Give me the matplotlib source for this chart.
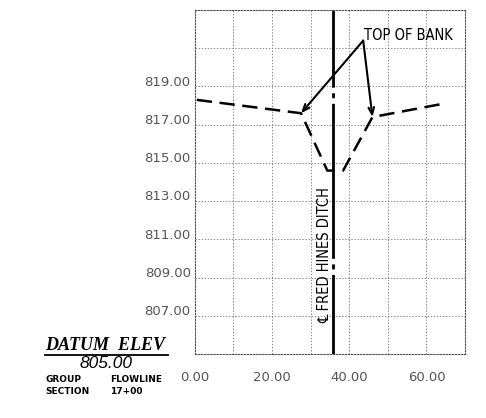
import matplotlib
matplotlib.use("Agg")
import matplotlib.pyplot as plt

# ---- data ----
offsets = [0.5, 27.5, 34.3, 38.4, 46.0, 64.4]
elevations = [818.3, 817.6, 814.6, 814.6, 817.4, 818.1]
centerline_x = 35.9
bank_left = (27.5, 817.6)
bank_right = (46.0, 817.4)
label_anchor = (43.6, 821.4)
x_ticks = [0, 20, 40, 60]
x_ticklabels = ["0.00", "20.00", "40.00", "60.00"]
y_ticks = [807, 809, 811, 813, 815, 817, 819]
y_ticklabels = ["807.00", "809.00", "811.00", "813.00", "815.00", "817.00", "819.00"]
x_lim = (0, 70)
y_lim = (805, 823)
datum = "805.00"
group = "FLOWLINE"
section = "17+00"

plt.rcParams['lines.scale_dashes'] = False

fig = plt.figure(figsize=(4.86, 4.18), dpi=100)
ax = fig.add_axes([0.401, 0.153, 0.556, 0.823])
ax.set_xlim(*x_lim)
ax.set_ylim(*y_lim)

# grid
ax.set_xticks(range(0, 71, 10))
ax.set_yticks(range(805, 824, 2))
ax.grid(True, color='#888888', linestyle=(0, (1, 1.2)), linewidth=0.7)
for s in ax.spines.values():
    s.set_linestyle((0, (1, 1.2)))
    s.set_color('#555555')
    s.set_linewidth(0.8)
ax.tick_params(length=0)
ax.set_xticklabels([])
ax.set_yticklabels([])

for xv, lab in zip(x_ticks, x_ticklabels):
    ax.annotate(lab, (xv, y_lim[0]), xycoords='data', xytext=(0, -17), textcoords='offset points',
                ha='center', va='center', fontsize=9.5, color='#555555', family='DejaVu Sans')
for yv, lab in zip(y_ticks, y_ticklabels):
    ax.annotate(lab, (x_lim[0], yv), xycoords='data', xytext=(-3, 3), textcoords='offset points',
                ha='right', va='center', fontsize=9.5, color='#555555', family='DejaVu Sans')

# ground profile
ax.plot(offsets, elevations, color='black', linewidth=1.8,
        linestyle=(0, (11, 5.5)), solid_capstyle='butt', dash_capstyle='butt')

# centerline
ax.plot([centerline_x, centerline_x], [y_lim[1], y_lim[0]], color='black', linewidth=2,
        linestyle=(56, (111.6, 4, 3.6, 4)))
ax.text(centerline_x - 2.3, 810.2, "\u2104 FRED HINES DITCH", rotation=90, ha='center', va='center',
        fontsize=10.5, family='DejaVu Sans', stretch='condensed', color='black')

# top of bank label and leaders
ax.text(label_anchor[0] + 0.3, label_anchor[1] - 0.15, "TOP OF BANK", ha='left', va='bottom',
        fontsize=10.5, family='DejaVu Sans', stretch='condensed', color='black')
for tgt in (bank_left, bank_right):
    ax.annotate("", xy=tgt, xytext=label_anchor,
                arrowprops=dict(arrowstyle='->,head_length=0.5,head_width=0.2', color='black', lw=1.5,
                                shrinkA=0, shrinkB=0))

# title block
fig.text(45 / 486, 1 - 346 / 418, "DATUM  ELEV", fontsize=13, family='Liberation Serif',
         style='italic', weight='bold', ha='left', va='center')
fig.add_artist(plt.Line2D([45 / 486, 168 / 486], [1 - 355 / 418, 1 - 355 / 418], color='black', lw=1.3))
fig.text(106 / 486, 1 - 363 / 418, datum, fontsize=12.5, family='Liberation Sans', style='italic',
         ha='center', va='center')
fig.text(45 / 486, 1 - 380 / 418, "GROUP", fontsize=6.5, weight='bold', family='DejaVu Sans', ha='left', va='center')
fig.text(110 / 486, 1 - 380 / 418, group, fontsize=6.5, weight='bold', family='DejaVu Sans', ha='left', va='center')
fig.text(45 / 486, 1 - 391 / 418, "SECTION", fontsize=6.5, weight='bold', family='DejaVu Sans', ha='left', va='center')
fig.text(110 / 486, 1 - 391 / 418, section, fontsize=6.5, weight='bold', family='DejaVu Sans', ha='left', va='center')

fig.savefig("out.png", dpi=100, facecolor='white')
